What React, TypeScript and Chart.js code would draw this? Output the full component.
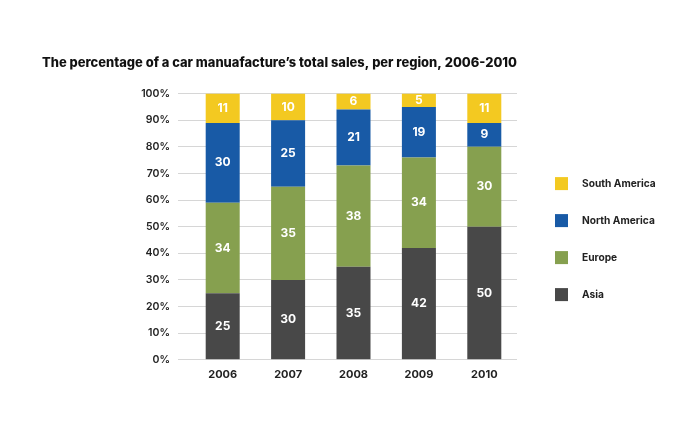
import React, { useEffect, useRef } from "react";
import { Chart, registerables } from "chart.js";

Chart.register(...registerables);

const years = ["2006", "2007", "2008", "2009", "2010"];
const asia = [25, 30, 35, 42, 50];
const europe = [34, 35, 38, 34, 30];
const northAmerica = [30, 25, 21, 19, 9];
const southAmerica = [11, 10, 6, 5, 11];
const yTicks = [0, 10, 20, 30, 40, 50, 60, 70, 80, 90, 100];

const FONT = "Inter, 'Noto Sans', sans-serif";

const labelPlugin = {
  id: "segLabels",
  afterDatasetsDraw(chart: any) {
    const ctx = chart.ctx;
    ctx.save();
    ctx.fillStyle = "#ffffff";
    ctx.font = `bold 12px ${FONT}`;
    ctx.textAlign = "center";
    ctx.textBaseline = "middle";
    chart.data.datasets.forEach((ds: any, i: number) => {
      const meta = chart.getDatasetMeta(i);
      meta.data.forEach((el: any, j: number) => {
        const { x, y, base } = el.getProps(["x", "y", "base"], true);
        ctx.fillText(String(ds.data[j]), x, (y + base) / 2);
      });
    });
    ctx.restore();
  },
};

const legendPlugin = {
  id: "sideLegend",
  afterDraw(chart: any) {
    const ctx = chart.ctx;
    const area = chart.chartArea;
    const items = chart.data.datasets.map((d: any) => d).reverse();
    const boxX = area.right + 38;
    const firstY = area.top + 90;
    const step = 37;
    ctx.save();
    ctx.font = `bold 10.2px ${FONT}`;
    ctx.textBaseline = "middle";
    ctx.textAlign = "left";
    items.forEach((ds: any, k: number) => {
      const cy = firstY + k * step;
      ctx.fillStyle = ds.backgroundColor;
      ctx.fillRect(boxX, cy - 6.5, 13, 13);
      ctx.fillStyle = "#222";
      ctx.fillText(ds.label, boxX + 27, cy);
    });
    ctx.restore();
  },
};

export default function App() {
  const ref = useRef<HTMLCanvasElement>(null);
  useEffect(() => {
    const chart = new Chart(ref.current!, {
      type: "bar",
      data: {
        labels: years,
        datasets: [
          { label: "Asia", data: asia, backgroundColor: "#484848" },
          { label: "Europe", data: europe, backgroundColor: "#86a04f" },
          { label: "North America", data: northAmerica, backgroundColor: "#185aa6" },
          { label: "South America", data: southAmerica, backgroundColor: "#f3c921" },
        ],
      },
      options: {
        animation: false,
        responsive: true,
        maintainAspectRatio: false,
        datasets: { bar: { barPercentage: 0.52, categoryPercentage: 1 } },
        layout: { padding: { top: 55, left: 42, right: 183, bottom: 54 } },
        plugins: {
          title: {
            display: true,
            text: "The percentage of a car manuafacture\u2019s total sales, per region, 2006-2010",
            align: "start",
            color: "#111",
            font: { family: FONT, size: 13, weight: "800" },
            padding: { top: 0, bottom: 23 },
          },
          legend: { display: false },
          tooltip: { enabled: false },
        },
        scales: {
          x: {
            stacked: true,
            grid: { display: false },
            border: { display: false },
            ticks: { color: "#222", font: { family: FONT, size: 11, weight: "bold" }, padding: 0 },
          },
          y: {
            stacked: true,
            min: 0,
            max: 100,
            afterBuildTicks: (axis: any) => {
              axis.ticks = yTicks.map((v) => ({ value: v }));
            },
            afterFit: (axis: any) => {
              axis.width = 148;
            },
            grid: { color: "#d6d6d6", tickLength: 12, drawTicks: true },
            border: { display: false },
            ticks: {
              color: "#222",
              padding: 8,
              font: { family: FONT, size: 10.5, weight: "600" },
              callback: (v: any) => v + "%",
            },
          },
        },
      },
      plugins: [labelPlugin, legendPlugin],
    });
    return () => chart.destroy();
  }, []);
  return (
    <div style={{ position: "fixed", left: 0, top: 0, width: 700, height: 435, background: "#fff" }}>
      <canvas ref={ref} />
    </div>
  );
}
